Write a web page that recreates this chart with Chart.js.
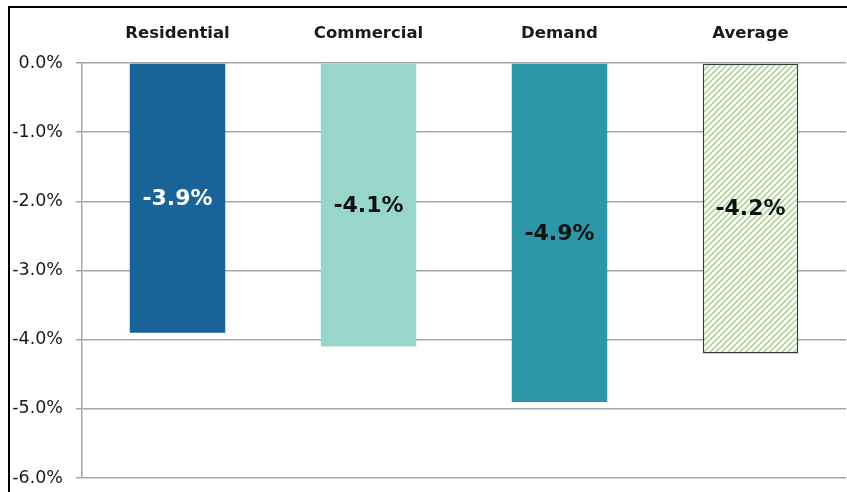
<!DOCTYPE html>
<html>
<head>
<meta charset="utf-8">
<script src="https://cdn.jsdelivr.net/npm/chart.js@4/dist/chart.umd.min.js"></script>
<style>
  html, body { margin: 0; padding: 0; background: #fff; overflow: hidden; }
  #wrap { position: absolute; left: 0; top: 0; width: 847px; height: 492px; }
</style>
</head>
<body>
<div id="wrap"><canvas id="c" width="847" height="492"></canvas></div>
<script>
const categories = ['Residential', 'Commercial', 'Demand', 'Average'];
const values = [-3.9, -4.1, -4.9, -4.2];
const labelColors = ['#ffffff', '#111111', '#111111', '#111111'];
const yTicks = [0, -1, -2, -3, -4, -5, -6];

const FONT = '"DejaVu Sans", sans-serif';

function hatch() {
  const s = 6;
  const p = document.createElement('canvas');
  p.width = s; p.height = s;
  const g = p.getContext('2d');
  g.fillStyle = '#ffffff';
  g.fillRect(0, 0, s, s);
  g.strokeStyle = '#A3D18B';
  g.lineWidth = 1.5;
  g.beginPath();
  g.moveTo(0, s); g.lineTo(s, 0);
  g.moveTo(-s / 2, s / 2); g.lineTo(s / 2, -s / 2);
  g.moveTo(s / 2, s * 1.5); g.lineTo(s * 1.5, s / 2);
  g.stroke();
  return g.createPattern(p, 'repeat');
}

const framePlugin = {
  id: 'frame',
  beforeDraw(chart) {
    const ctx = chart.ctx;
    ctx.save();
    ctx.fillStyle = '#fff';
    ctx.fillRect(0, 0, chart.width, chart.height);
    ctx.strokeStyle = '#000';
    ctx.lineWidth = 2;
    ctx.beginPath();
    ctx.moveTo(9, chart.height + 2);
    ctx.lineTo(9, 7);
    ctx.lineTo(chart.width + 2, 7);
    ctx.stroke();
    ctx.restore();
  }
};

const labelPlugin = {
  id: 'barLabels',
  afterDatasetsDraw(chart) {
    const ctx = chart.ctx;
    const meta = chart.getDatasetMeta(0);
    ctx.save();
    ctx.font = 'bold 22px ' + FONT;
    ctx.textAlign = 'center';
    ctx.textBaseline = 'middle';
    meta.data.forEach((bar, i) => {
      const { x, y, base } = bar.getProps(['x', 'y', 'base'], true);
      ctx.fillStyle = labelColors[i];
      const v = values[i];
      ctx.fillText(v.toFixed(1) + '%', x, (y + base) / 2 + 1);
    });
    ctx.restore();
  }
};

new Chart(document.getElementById('c'), {
  type: 'bar',
  data: {
    labels: categories,
    datasets: [{
      data: values,
      backgroundColor: ['#1A6399', '#98D5CB', '#2B97A8', hatch()],
      borderColor: ['#1A6399', '#98D5CB', '#2B97A8', '#3a3a3a'],
      borderWidth: [0, 0, 0, 1.5],
      borderSkipped: false,
      categoryPercentage: 1,
      barPercentage: 0.5
    }]
  },
  options: {
    responsive: false,
    animation: false,
    layout: { padding: { left: 0, right: 1, top: 0, bottom: 14 } },
    plugins: { legend: { display: false }, tooltip: { enabled: false } },
    scales: {
      x: {
        position: 'top',
        grid: { display: false },
        border: { display: false },
        ticks: { color: '#1a1a1a', font: { family: FONT, size: 16.5, weight: 'bold' }, padding: 11 },
        afterFit(s) { s.height = 63; }
      },
      y: {
        min: -6, max: 0,
        afterBuildTicks(s) { s.ticks = yTicks.map(v => ({ value: v })); },
        grid: { color: '#A6A6A6', lineWidth: 1.5, tickLength: 6, drawTicks: true },
        border: { display: true, color: '#A6A6A6', width: 1.5 },
        ticks: {
          color: '#1a1a1a', font: { family: FONT, size: 17.5 }, padding: 13,
          callback: v => v.toFixed(1) + '%'
        },
        afterFit(s) { s.width = 82; s.paddingBottom = 0; s.paddingTop = 0; }
      }
    }
  },
  plugins: [framePlugin, labelPlugin]
});
</script>
</body>
</html>
